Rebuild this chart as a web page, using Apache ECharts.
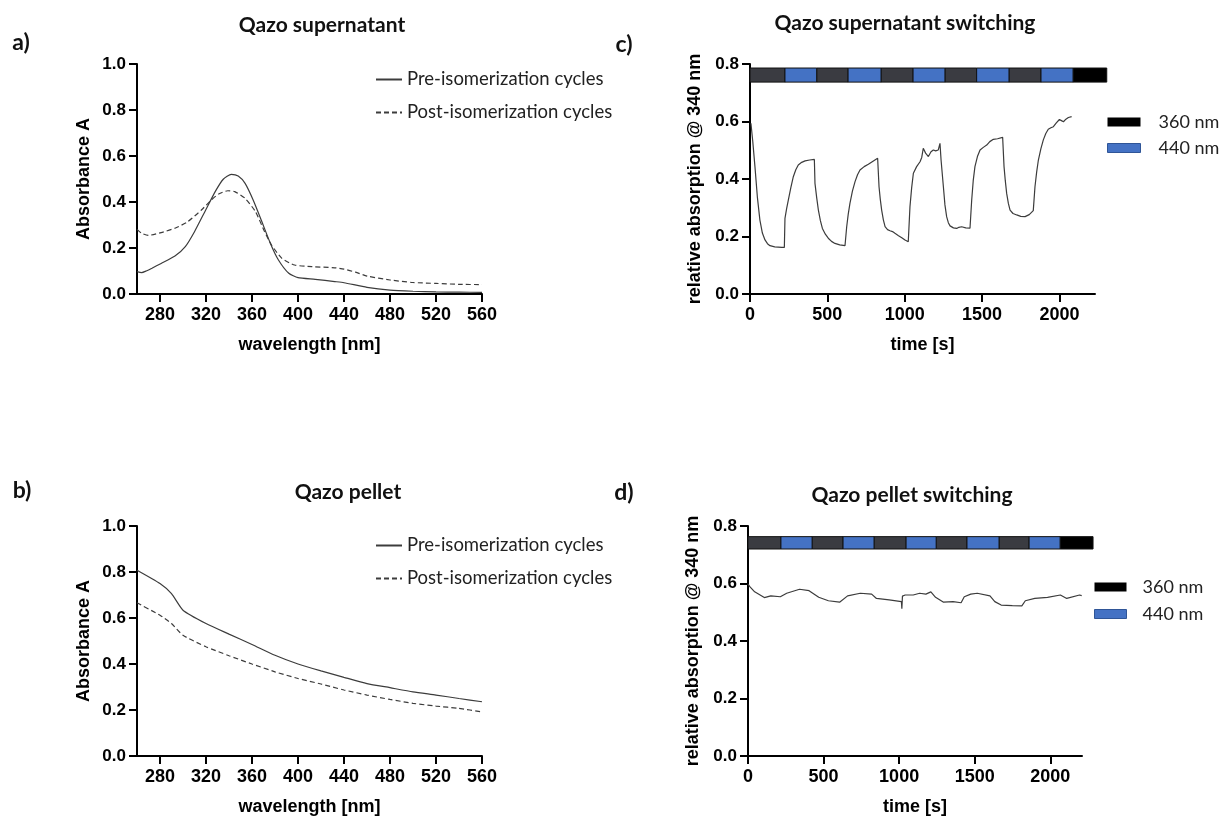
<!DOCTYPE html>
<html><head><meta charset="utf-8">
<script src="https://cdn.jsdelivr.net/npm/echarts@6/dist/echarts.min.js"></script>
<style>html,body{margin:0;padding:0;background:#fff}#chart{width:1220px;height:816px}</style>
</head><body><div id="chart"></div>
<script>
// ---- Panel a: Qazo supernatant spectra ----
const waveAPre = [260,264,268,273,281,293,302,310,319,328,335,342,348,354,361,368,376,383,392,400,415,432,440,460,480,500,520,540,560];
const absAPre  = [0.097,0.093,0.1,0.112,0.133,0.165,0.206,0.271,0.358,0.445,0.499,0.52,0.513,0.481,0.409,0.322,0.22,0.148,0.09,0.071,0.064,0.054,0.049,0.029,0.017,0.012,0.009,0.008,0.007];
const waveAPost = [260,264,270,281,293,304,316,324,331,339,345,354,363,371,377,386,397,412,432,440,450,460,480,500,520,540,560];
const absAPost  = [0.281,0.264,0.255,0.267,0.286,0.314,0.365,0.406,0.435,0.449,0.445,0.416,0.358,0.271,0.213,0.155,0.126,0.119,0.114,0.108,0.095,0.078,0.061,0.05,0.046,0.042,0.041];
// ---- Panel b: Qazo pellet spectra ----
const waveB = [260,280,290,300,320,340,360,380,400,420,440,460,480,500,520,540,560];
const absBPre  = [0.808,0.75,0.706,0.634,0.576,0.53,0.485,0.438,0.40,0.37,0.342,0.315,0.297,0.279,0.265,0.25,0.236];
const absBPost = [0.666,0.612,0.576,0.525,0.475,0.436,0.40,0.366,0.337,0.313,0.287,0.265,0.246,0.229,0.217,0.207,0.192];
// ---- Panel c: supernatant switching ----
const timeC = [6,18,32,48,64,80,97,113,129,160,205,222, 226,237,248,264,280,296,312,334,356,386,416, 420,431,442,455,468,487,506,527,549,580,614, 625,635,646,662,679,695,711,738,765,795,825, 834,842,851,862,873,889,905,921,937,960,981,1002,1023, 1034,1045,1056,1077,1099,1110,1120,1135,1153,1170,1185,1200,1217,1228, 1235,1250,1260,1271,1282,1293,1315,1336,1350,1368,1395,1422, 1433,1443,1454,1470,1487,1508,1530,1550,1573,1600,1633, 1642,1650,1659,1670,1681,1700,1724,1750,1778,1805,1831, 1842,1853,1864,1880,1896,1912,1928,1945,1961,1980,2000,2013,2026,2042,2058,2079];
const valC  = [0.594,0.53,0.443,0.335,0.257,0.212,0.188,0.175,0.168,0.164,0.162,0.162, 0.263,0.298,0.327,0.37,0.408,0.432,0.449,0.458,0.463,0.466,0.468, 0.385,0.335,0.292,0.255,0.228,0.208,0.194,0.183,0.176,0.171,0.168, 0.234,0.278,0.315,0.358,0.391,0.415,0.431,0.443,0.451,0.462,0.472, 0.373,0.33,0.292,0.258,0.234,0.224,0.22,0.217,0.211,0.203,0.196,0.188,0.182, 0.304,0.37,0.42,0.443,0.46,0.475,0.507,0.49,0.478,0.495,0.501,0.498,0.501,0.524, 0.466,0.373,0.31,0.269,0.248,0.237,0.23,0.228,0.232,0.234,0.23,0.229, 0.327,0.395,0.443,0.478,0.501,0.51,0.518,0.53,0.538,0.54,0.545, 0.443,0.395,0.35,0.315,0.292,0.28,0.275,0.27,0.269,0.276,0.29, 0.373,0.425,0.466,0.505,0.536,0.558,0.573,0.578,0.582,0.595,0.607,0.603,0.599,0.608,0.614,0.617];
// ---- Panel d: pellet switching ----
const timeD = [0,12,44,108,151,214,256,341,404,468,532,606,659,743,818,850,934,1015,1018,1022,1040,1093,1136,1177,1210,1241,1294,1357,1410,1431,1474,1517,1601,1633,1675,1749,1812,1835,1898,1982,2067,2109,2194,2208];
const valD  = [0.598,0.589,0.571,0.551,0.557,0.554,0.566,0.58,0.575,0.552,0.54,0.535,0.557,0.566,0.563,0.548,0.543,0.537,0.512,0.556,0.56,0.56,0.566,0.563,0.571,0.552,0.535,0.537,0.533,0.554,0.563,0.566,0.557,0.537,0.525,0.523,0.522,0.54,0.548,0.552,0.56,0.548,0.56,0.558];
// ---- Illumination strips (segment edges in s, lamp kind per segment) ----
const stripEdgesC = [0,226,431,634,847,1054,1260,1465,1674,1881,2088,2306];
const stripEdgesD = [0,218,424,629,834,1046,1245,1449,1661,1860,2065,2283];
const stripKinds  = [0,1,0,1,0,1,0,1,0,1,2]; // 0: 360 nm, 1: 440 nm, 2: final 360 nm block
// ---- Tick labels ----
const waveTicks = [280,320,360,400,440,480,520,560];
const timeTicks = [0,500,1000,1500,2000];

const segColors = ['#3a3b41','#4472c4','#000000'];
function pairs(xs, ys){ return xs.map((x,i)=>[x, ys[i]]); }
function stripData(edges, want){
  const out=[];
  for(let i=0;i<stripKinds.length;i++){
    const k=stripKinds[i];
    if(want.indexOf(k)>=0) out.push([edges[i], edges[i+1], k]);
  }
  return out;
}
function stripRender(yTop, yBot){
  return function(params, api){
    const p0 = api.coord([api.value(0), yTop]);
    const p1 = api.coord([api.value(1), yBot]);
    return {type:'rect', shape:{x:p0[0], y:p0[1], width:p1[0]-p0[0], height:p1[1]-p0[1]},
      style:{fill: segColors[api.value(2)], stroke:'#111', lineWidth:1}};
  };
}
const tickFont = {color:'#000', fontFamily:'Liberation Sans', fontWeight:'bold'};
const nameFont = {color:'#000', fontFamily:'Liberation Sans', fontWeight:'bold', fontSize:18};
const axLine = {show:true, onZero:false, lineStyle:{color:'#000', width:2}};
const axTick = {show:true, length:8, lineStyle:{color:'#000', width:2}};

function wXAxis(gi){
  return {type:'value', gridIndex:gi, min:260, max:560, name:'wavelength [nm]', nameLocation:'middle', nameGap:42, nameTextStyle:nameFont,
    axisLine:axLine, axisTick:Object.assign({customValues:waveTicks}, axTick),
    axisLabel:Object.assign({customValues:waveTicks, fontSize:18, margin:12, formatter:v=>String(v)}, tickFont), splitLine:{show:false}};
}
function tXAxis(gi, max){
  return {type:'value', gridIndex:gi, min:0, max:max, name:'time [s]', nameLocation:'middle', nameGap:42, nameTextStyle:nameFont,
    axisLine:axLine, axisTick:Object.assign({customValues:timeTicks}, axTick),
    axisLabel:Object.assign({customValues:timeTicks, fontSize:18, margin:12, formatter:v=>String(v)}, tickFont), splitLine:{show:false}};
}
function yAx(gi, max, name, gap){
  return {type:'value', gridIndex:gi, min:0, max:max, interval:0.2, name:name, nameLocation:'middle', nameGap:gap, nameTextStyle:nameFont,
    axisLine:axLine, axisTick:axTick,
    axisLabel:Object.assign({fontSize:17, margin:11, formatter:v=>v.toFixed(1)}, tickFont), splitLine:{show:false}};
}
const solid = {color:'#3c3c3c', width:1.2};
const dashed = {color:'#3c3c3c', width:1.2, type:[5,3]};
function lineS(name, xi, data, ls, smooth){
  return {type:'line', name:name, xAxisIndex:xi, yAxisIndex:xi, data:data, symbol:'none', showSymbol:false,
    smooth:smooth || false,
    lineStyle:ls, itemStyle:{color:'#3c3c3c'}, animation:false, silent:true};
}
function stripS(name, xi, edges, want, yTop, yBot){
  return {type:'custom', name:name, xAxisIndex:xi, yAxisIndex:xi, data:stripData(edges, want), clip:false,
    renderItem:stripRender(yTop, yBot), encode:{x:[0,1]}, itemStyle:{color: want[0]===1?'#4472c4':'#000'}, animation:false, silent:true};
}
const legTxt = {fontFamily:'Lato', fontSize:18.5, color:'#222'};
function lampTxt(pad){ return {fontFamily:'Lato', fontSize:18, color:'#222', padding:[0,0,0,pad]}; }
function titleText(x, y, text, size){
  return {type:'text', x:x, y:y, style:{text:text, font:'bold '+size+'px Lato', fill:'#111', align:'center', verticalAlign:'middle', textAlign:'center', textVerticalAlign:'middle'}};
}
const lineLegendItems = [
  {name:'Pre-isomerization cycles', itemStyle:{opacity:0}},
  {name:'Post-isomerization cycles', itemStyle:{opacity:0}}
];
const lampLegendItems = [
  {name:'360 nm', itemStyle:{color:'#000'}},
  {name:'440 nm', itemStyle:{color:'#4472c4', borderColor:'#2f5597', borderWidth:1}}
];

const option = {
  backgroundColor:'#fff',
  animation:false,
  grid:[
    {left:137, top:64, width:345, height:230, outerBoundsMode:'none', containLabel:false},
    {left:137, top:526, width:345, height:230, outerBoundsMode:'none', containLabel:false},
    {left:750, top:64, width:345, height:230, outerBoundsMode:'none', containLabel:false},
    {left:748, top:526, width:334, height:230, outerBoundsMode:'none', containLabel:false}
  ],
  xAxis:[wXAxis(0), wXAxis(1), tXAxis(2, 2230), tXAxis(3, 2210)],
  yAxis:[yAx(0,1,'Absorbance A',44), yAx(1,1,'Absorbance A',44), yAx(2,0.8,'relative absorption @ 340 nm',46), yAx(3,0.8,'relative absorption @ 340 nm',46)],
  legend:[
    {left:375, top:70, padding:0, orient:'vertical', itemWidth:26, itemHeight:10, itemGap:14, textStyle:legTxt, selectedMode:false,
      itemStyle:{opacity:0}, data:lineLegendItems},
    {left:375, top:536, padding:0, orient:'vertical', itemWidth:26, itemHeight:10, itemGap:14, textStyle:legTxt, selectedMode:false,
      itemStyle:{opacity:0}, data:lineLegendItems},
    {left:1107, top:113, padding:0, orient:'vertical', icon:'rect', itemWidth:33, itemHeight:9, itemGap:8, textStyle:lampTxt(13), selectedMode:false,
      data:lampLegendItems},
    {left:1094, top:578, padding:0, orient:'vertical', icon:'rect', itemWidth:32, itemHeight:9, itemGap:9, textStyle:lampTxt(11), selectedMode:false,
      data:lampLegendItems}
  ],
  graphic:[
    titleText(322, 25, 'Qazo supernatant', 21),
    titleText(348, 492, 'Qazo pellet', 21),
    titleText(905, 23, 'Qazo supernatant switching', 21),
    titleText(912, 495, 'Qazo pellet switching', 21),
    titleText(21, 43, 'a)', 23),
    titleText(624, 45, 'c)', 23),
    titleText(22, 491, 'b)', 23),
    titleText(624, 493, 'd)', 23)
  ],
  series:[
    lineS('Pre-isomerization cycles', 0, pairs(waveAPre, absAPre), solid, 0.2),
    lineS('Post-isomerization cycles', 0, pairs(waveAPost, absAPost), dashed, 0.2),
    lineS('Pre-isomerization cycles', 1, pairs(waveB, absBPre), solid, 0.2),
    lineS('Post-isomerization cycles', 1, pairs(waveB, absBPost), dashed, 0.2),
    lineS('supernatant', 2, pairs(timeC, valC), solid),
    lineS('pellet', 3, pairs(timeD, valD), solid),
    stripS('360 nm', 2, stripEdgesC, [0,2], 0.786, 0.737),
    stripS('440 nm', 2, stripEdgesC, [1], 0.786, 0.737),
    stripS('360 nm', 3, stripEdgesD, [0,2], 0.763, 0.72),
    stripS('440 nm', 3, stripEdgesD, [1], 0.763, 0.72)
  ]
};
const chart = echarts.init(document.getElementById('chart'), null, {renderer:'canvas'});
chart.setOption(option);
</script></body></html>
